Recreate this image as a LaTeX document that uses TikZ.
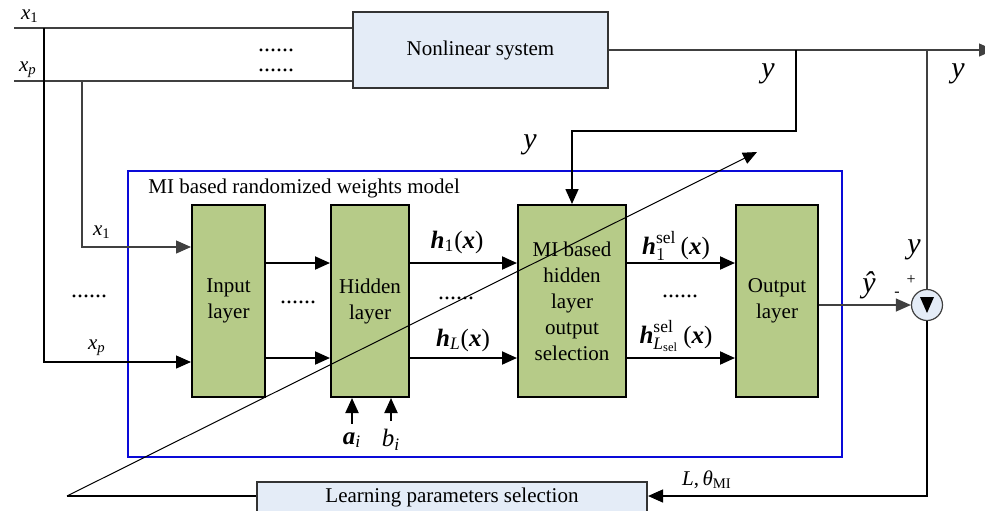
\documentclass[tikz,border=0pt]{standalone}
\usepackage{amsmath}
\usepackage{fontspec}
\setmainfont{Liberation Serif}
\usetikzlibrary{positioning, arrows.meta, calc}
\definecolor{moos}{HTML}{B6CB88}
\definecolor{eis}{HTML}{E4ECF7}
\definecolor{rahmen}{HTML}{0A0AD8}
\newcommand{\bi}[1]{\textbf{\textit{#1}}}

\begin{document}
\begin{tikzpicture}[x=0.5pt, y=-0.5pt,
      schicht/.style={draw=black, line width=1pt, fill=moos, align=center,
        font=\fontsize{10.5}{13}\selectfont, minimum height=96pt, inner sep=1pt},
      kasten/.style={draw=black!80, line width=1pt, fill=eis,
        font=\fontsize{10.5}{13}\selectfont, inner sep=1pt},
      pfeil/.style={-{Triangle[length=7.5pt, width=6.5pt]}},
      linie/.style={black!75, line width=0.6pt},
      dick/.style={black, line width=1pt},
      txt/.style={font=\fontsize{10.5}{13}\selectfont, inner sep=0pt},
      punkte/.style={font=\fontsize{12}{13}\selectfont, inner sep=0pt},
      formel/.style={font=\fontsize{12.5}{14}\selectfont, inner sep=0pt},
      gross/.style={font=\fontsize{15}{18}\selectfont, inner sep=0pt},
      klein/.style={font=\fontsize{8}{9}\selectfont, inner sep=0pt}]
    \clip (0,0) rectangle (985,510);
    % model frame
    \node[draw=rahmen, line width=1pt, minimum width=357pt, minimum height=143pt] (modell) at (485,314) {};
    \node[txt, anchor=west] (titel) at (148,188) {MI based randomized weights model};
    % layers
    \node[schicht, minimum width=36.5pt] (inp) at (228.5,301) {Input\\layer};
    \node[schicht, minimum width=39pt, right=32pt of inp] (hid) {Hidden\\layer};
    \node[schicht, minimum width=54pt, right=53.5pt of hid] (mi) {MI based\\hidden\\layer\\output\\selection};
    \node[schicht, minimum width=41pt, right=54pt of mi] (out) {Output\\layer};
    \node[kasten, minimum width=127.5pt, minimum height=38pt] (nls) at (480.5,50) {Nonlinear system};
    \node[kasten, minimum width=195pt, minimum height=15pt] (lps) at (452,497) {Learning parameters selection};
    \node[circle, draw=black!75, line width=0.6pt, fill=eis, minimum size=15.5pt, inner sep=0pt] (sum) at (927,305) {};
    \fill ($(sum)+(-7,-8)$) -- ($(sum)+(7,-8)$) -- ($(sum)+(0,8)$) -- cycle;

    \coordinate (x1a) at (14,28);
    \coordinate (xpa) at (14,81);
    \coordinate (j1) at (44,28);
    \coordinate (jp) at (82,81);
    \coordinate (yend) at (994,50);
    \coordinate (b1) at (796,50);
    \coordinate (b2) at (927,50);
    \coordinate (tail) at (67,496);
    \coordinate (tip) at (757,152);

    % inputs
    \draw[linie] (x1a) -- (x1a -| nls.west);
    \draw[linie] (xpa) -- (xpa -| nls.west);
    \draw[linie, black, pfeil] (j1) |- ($(inp.west)+(0,61)$);
    \draw[linie, pfeil] (jp) |- ($(inp.west)+(0,-54)$);
    % between layers
    \foreach \a/\b in {inp/hid, hid/mi, mi/out} {
      \draw[dick, pfeil] ($(\a.east)+(0,-38)$) -- ($(\b.west)+(0,-38)$);
      \draw[dick, pfeil] ($(\a.east)+(0,57)$) -- ($(\b.west)+(0,57)$);
    }
    \draw[linie, pfeil] (out.east |- sum) -- (sum.west);
    % outputs and feedback
    \draw[linie, pfeil] (nls.east |- yend) -- (yend);
    \draw[black, line width=0.8pt, pfeil] (b1) -- ++(0,81) -| (mi.north);
    \draw[linie] (b2) -- (sum.north);
    \draw[linie, black, pfeil] (sum.south) |- (tail -| lps.east);
    \draw[linie, black] (tail -| lps.west) -- (tail);
    \draw[black, line width=0.5pt, -{Triangle[length=7pt, width=6pt]}] (tail) -- (tip);

    % labels
    \node[txt] (lx1) at (30,16) {\textit{x}\textsubscript{1}};
    \node[txt] (lxp) at (28,70) {\textit{x}\textsubscript{\textit{p}}};
    \node[punkte, align=center, font=\fontsize{12}{10}\selectfont, anchor=base] (d12) at (276,71) {......\\......};
    \node[txt] (ix1) at (102,232) {\textit{x}\textsubscript{1}};
    \node[txt] (ixp) at (97,348) {\textit{x}\textsubscript{\textit{p}}};
    \node[punkte] (d3) at (89,296) {......};
    \node[punkte] (d4) at (298,302) {......};
    \node[punkte] (d5) at (456,298) {......};
    \node[punkte] (d6) at (680,296) {......};
    \node[formel] (h1) at (457,242) {\bi{h}\textsubscript{1}(\bi{x})};
    \node[formel] (hl) at (463,340) {\bi{h}\textsubscript{\textit{L}}(\bi{x})};
    \node[formel] (hs1) at (676,246) {$\text{\bi{h}}^{\mathrm{sel}}_{1}$\,(\bi{x})};
    \node[formel] (hsl) at (676,336) {$\text{\bi{h}}^{\mathrm{sel}}_{\mathit{L}_{\mathrm{sel}}}$\,(\bi{x})};
    \node[formel] (ai) at (352,440) {$\text{\bi{a}}_{\mathit{i}}$};
    \node[formel] (bi) at (391,440) {$\mathit{b}_{\mathit{i}}$};
    \draw[dick, pfeil] ([yshift=4pt]ai.north) -- (ai.north |- hid.south);
    \draw[dick, pfeil] ([yshift=4pt]bi.north) -- (bi.north |- hid.south);
    \node[gross] (y1) at (768,74) {\textit{y}};
    \node[gross] (y2) at (958,74) {\textit{y}};
    \node[gross] (y3) at (530,145) {\textit{y}};
    \node[gross] (y4) at (914,250) {\textit{y}};
    \node[gross] (yh) at (869,285) {\textit{ŷ}};
    \node[klein] (plus) at (911,280) {+};
    \node[klein] (minus) at (897,294) {-};
    \node[txt] (lth) at (707,480) {\textit{L},\,\textit{θ}\textsubscript{MI}};
  \end{tikzpicture}
\end{document}
